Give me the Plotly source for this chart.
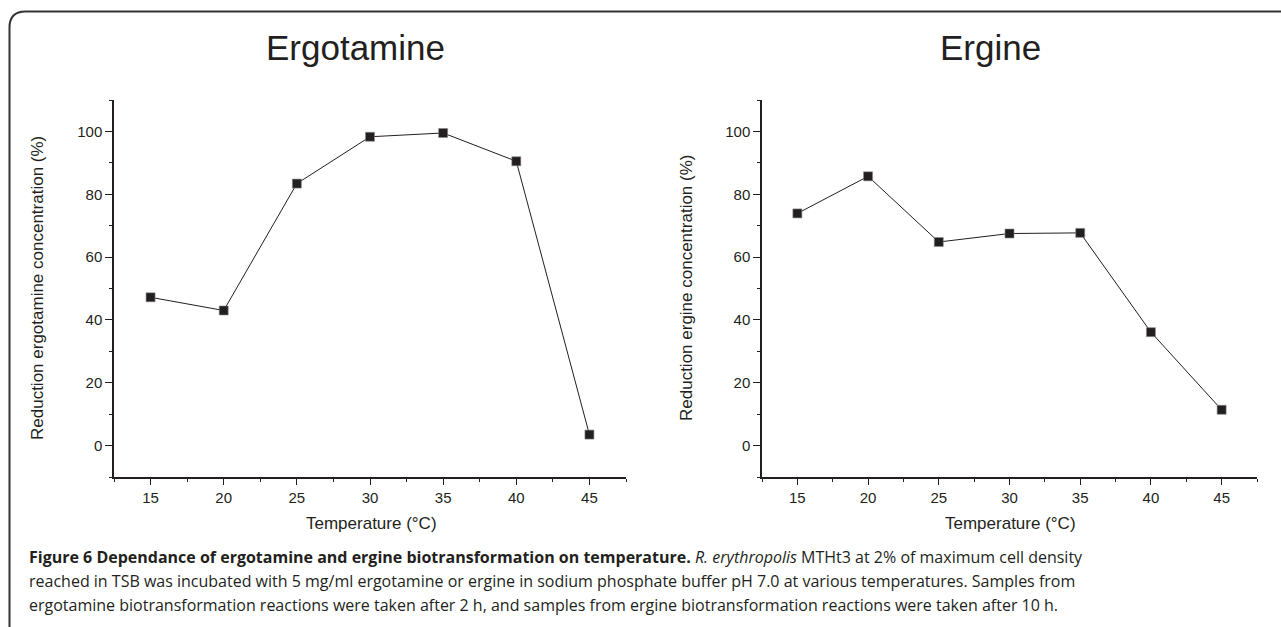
import plotly.graph_objects as go

W, H = 1281, 627

temps = [15, 20, 25, 30, 35, 40, 45]
ergotamine = [47.2, 43.0, 83.4, 98.3, 99.5, 90.5, 3.5]
ergine = [73.9, 85.7, 64.8, 67.5, 67.7, 36.1, 11.4]

titles = ["Ergotamine", "Ergine"]
y_titles = ["Reduction ergotamine concentration (%)", "Reduction ergine concentration (%)"]
x_title = "Temperature (°C)"
caption = [
    "<b>Figure 6 Dependance of ergotamine and ergine biotransformation on temperature.</b> "
    "<i>R. erythropolis</i> MTHt3 at 2% of maximum cell density",
    "reached in TSB was incubated with 5 mg/ml ergotamine or ergine in sodium phosphate buffer pH 7.0 at various temperatures. Samples from",
    "ergotamine biotransformation reactions were taken after 2 h, and samples from ergine biotransformation reactions were taken after 10 h.",
]

def px(x):
    return x / W

def py(y):
    return 1 - y / H

FONT = "Liberation Sans, Arial, sans-serif"
CAP_FONT = "Open Sans, Noto Sans, sans-serif"
INK = "#231f20"

fig = go.Figure()
for i, ys in enumerate([ergotamine, ergine]):
    fig.add_trace(go.Scatter(
        x=temps, y=ys, mode="lines+markers",
        line=dict(color=INK, width=1),
        marker=dict(symbol="square", size=9, color=INK, line=dict(color="#888", width=0.6)),
        xaxis="x" if i == 0 else "x2", yaxis="y" if i == 0 else "y2",
        showlegend=False, cliponaxis=False,
    ))

def xaxis(domain, anchor):
    return dict(
        domain=domain, anchor=anchor, range=[12.5, 47.5], tick0=15, dtick=5,
        showline=True, linecolor=INK, linewidth=1.5, ticks="outside", ticklen=6,
        tickwidth=1.2, tickcolor=INK, showgrid=False, zeroline=False,
        tickfont=dict(family=FONT, size=15, color=INK),
        minor=dict(ticks="outside", ticklen=3, dtick=2.5, tick0=12.5, tickcolor=INK, tickwidth=1.2),
    )

def yaxis(domain, anchor):
    return dict(
        domain=domain, anchor=anchor, range=[-10, 110], tick0=0, dtick=20,
        showline=True, linecolor=INK, linewidth=1.5, ticks="outside", ticklen=7,
        tickwidth=1.2, tickcolor=INK, showgrid=False, zeroline=False,
        tickfont=dict(family=FONT, size=15, color=INK),
        minor=dict(ticks="outside", ticklen=3, dtick=10, tick0=0, tickcolor=INK, tickwidth=1.2),
    )

ybot, ytop = py(477), py(100)
fig.update_layout(
    width=W, height=H, margin=dict(l=0, r=0, t=0, b=0),
    paper_bgcolor="white", plot_bgcolor="white",
    xaxis=xaxis([px(114), px(626)], "y"),
    yaxis=yaxis([ybot, ytop], "x"),
    xaxis2=xaxis([px(762), px(1257)], "y2"),
    yaxis2=yaxis([ybot, ytop], "x2"),
)

anns = []
# titles
anns.append(dict(x=px(356), y=py(48), text=titles[0], showarrow=False, xref="paper", yref="paper",
                 xanchor="center", yanchor="middle", font=dict(family=FONT, size=35, color=INK)))
anns.append(dict(x=px(990), y=py(48), text=titles[1], showarrow=False, xref="paper", yref="paper",
                 xanchor="center", yanchor="middle", font=dict(family=FONT, size=35, color=INK)))
# y titles
for xc, t in [(38, y_titles[0]), (687, y_titles[1])]:
    anns.append(dict(x=px(xc), y=py(288), text=t, showarrow=False, xref="paper", yref="paper",
                     textangle=-90, xanchor="center", yanchor="middle",
                     font=dict(family=FONT, size=17, color=INK)))
# x titles
for xc in [371, 1010]:
    anns.append(dict(x=px(xc), y=py(523), text=x_title, showarrow=False, xref="paper", yref="paper",
                     xanchor="center", yanchor="middle", font=dict(family=FONT, size=17, color=INK)))
# caption
for k, line in enumerate(caption):
    anns.append(dict(x=px(27), y=py(557 + 24 * k), text=line, showarrow=False, xref="paper", yref="paper",
                     xanchor="left", yanchor="middle", font=dict(family=CAP_FONT, size=16, color=INK)))
fig.update_layout(annotations=anns)

# rounded frame (top-left corner, open to right and bottom)
r = 16
x0, y0 = 9.5, 11.5
path = (f"M {px(x0)},{py(H + 5)} L {px(x0)},{py(y0 + r)} "
        f"Q {px(x0)},{py(y0)} {px(x0 + r)},{py(y0)} L {px(W + 5)},{py(y0)}")
fig.add_shape(type="path", path=path, xref="paper", yref="paper",
              line=dict(color="#333", width=2))

fig.write_html("out.html")
